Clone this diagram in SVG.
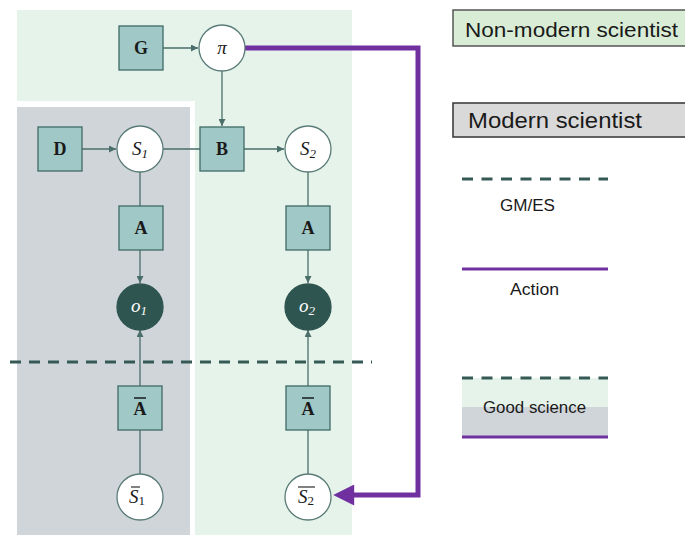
<svg xmlns="http://www.w3.org/2000/svg" width="685" height="535" viewBox="0 0 685 535">
<style>
.sq{fill:#a0c8c6;stroke:#3f6a66;stroke-width:1.3}
.wc{fill:#ffffff;stroke:#5a7c78;stroke-width:1.3}
.dc{fill:#2f5550;stroke:#2f5550;stroke-width:1.3}
.lbl{font-family:"Liberation Serif",serif;font-size:18px;font-weight:bold;fill:#1a1a1a;text-anchor:middle}
.it{font-family:"Liberation Serif",serif;font-size:19px;font-style:italic;fill:#1a1a1a;text-anchor:middle}
.itw{font-family:"Liberation Serif",serif;font-size:19px;font-style:italic;fill:#ffffff;text-anchor:middle}
.edge{stroke:#4a6e69;stroke-width:1.3;fill:none}
.leg{font-family:"Liberation Sans",sans-serif;fill:#1a1a1a}
</style>
<defs>
<marker id="ah" viewBox="0 0 10 10" refX="10" refY="5" markerWidth="7" markerHeight="7" markerUnits="userSpaceOnUse" orient="auto">
<path d="M0,0 L10,5 L0,10 z" fill="#4a6e69"/>
</marker>
<marker id="pah" viewBox="0 0 10 10" refX="2" refY="5" markerWidth="5" markerHeight="4.2" orient="auto">
<path d="M0,0 L10,5 L0,10 z" fill="#7030a0"/>
</marker>
</defs>
<rect width="685" height="535" fill="#ffffff"/>
<g id="regions">
<rect x="17" y="10" width="335" height="525" fill="#e6f3ea"/>
<rect x="17" y="101" width="178" height="434" fill="#ffffff"/>
<rect x="17" y="107" width="173" height="428" fill="#d0d5da"/>
</g>
<line x1="10" y1="362" x2="372" y2="362" stroke="#355a55" stroke-width="3" stroke-dasharray="11,8"/>
<g id="connectors">
<line class="edge" x1="163" y1="48" x2="198" y2="48" marker-end="url(#ah)"/>
<line class="edge" x1="222" y1="71" x2="222" y2="126" marker-end="url(#ah)"/>
<line class="edge" x1="82" y1="149" x2="116" y2="149" marker-end="url(#ah)"/>
<line class="edge" x1="163" y1="149" x2="200" y2="149"/>
<line class="edge" x1="244" y1="149" x2="284" y2="149" marker-end="url(#ah)"/>
<line class="edge" x1="140" y1="172" x2="140" y2="206"/>
<line class="edge" x1="308" y1="172" x2="308" y2="206"/>
<line class="edge" x1="140" y1="250" x2="140" y2="283" marker-end="url(#ah)"/>
<line class="edge" x1="308" y1="250" x2="308" y2="283" marker-end="url(#ah)"/>
<line class="edge" x1="140" y1="386" x2="140" y2="330" marker-end="url(#ah)"/>
<line class="edge" x1="308" y1="386" x2="308" y2="330" marker-end="url(#ah)"/>
<line class="edge" x1="140" y1="430" x2="140" y2="474"/>
<line class="edge" x1="308" y1="430" x2="308" y2="474"/>
<path d="M245,48 H418 V495 H350" fill="none" stroke="#7030a0" stroke-width="5" marker-end="url(#pah)"/>
</g>
<g id="G"><rect class="sq" x="119" y="26" width="44" height="44"/><text class="lbl" x="141" y="54">G</text></g>
<g id="pi"><circle class="wc" cx="222" cy="48" r="23"/><text class="it" x="222" y="54">π</text></g>
<g id="D"><rect class="sq" x="38" y="127" width="44" height="44"/><text class="lbl" x="60" y="155">D</text></g>
<g id="S1"><circle class="wc" cx="140" cy="149" r="23"/><text class="it" x="140" y="155">S<tspan font-size="13" dy="3">1</tspan></text></g>
<g id="B"><rect class="sq" x="200" y="127" width="44" height="44"/><text class="lbl" x="222" y="155">B</text></g>
<g id="S2"><circle class="wc" cx="308" cy="149" r="23"/><text class="it" x="308" y="155">S<tspan font-size="13" dy="3">2</tspan></text></g>
<g id="A1"><rect class="sq" x="119" y="206" width="44" height="44"/><text class="lbl" x="141" y="234" font-size="16">A</text></g>
<g id="A2"><rect class="sq" x="286" y="206" width="44" height="44"/><text class="lbl" x="308" y="234" font-size="16">A</text></g>
<g id="o1"><circle class="dc" cx="140" cy="307" r="23"/><text class="itw" x="139" y="312">o<tspan font-size="13" dy="3">1</tspan></text></g>
<g id="o2"><circle class="dc" cx="308" cy="307" r="23"/><text class="itw" x="307" y="312">o<tspan font-size="13" dy="3">2</tspan></text></g>
<g id="Abar1"><rect class="sq" x="118" y="386" width="44" height="44"/><text class="lbl" x="140" y="415" font-size="16">A</text><line x1="134" y1="398" x2="146" y2="398" stroke="#1a1a1a" stroke-width="1.5"/></g>
<g id="Abar2"><rect class="sq" x="286" y="386" width="44" height="44"/><text class="lbl" x="308" y="415" font-size="16">A</text><line x1="302" y1="398" x2="314" y2="398" stroke="#1a1a1a" stroke-width="1.5"/></g>
<g id="Sbar1"><circle class="wc" cx="140" cy="497" r="23"/><text class="it" x="137" y="503" font-size="16">S<tspan font-style="normal" font-size="13" dy="2">1</tspan></text><line x1="131" y1="487" x2="140" y2="487" stroke="#1a1a1a" stroke-width="1.1"/></g>
<g id="Sbar2"><circle class="wc" cx="308" cy="497" r="23"/><text class="it" x="306" y="503" font-size="16">S<tspan font-style="normal" font-size="13" dy="2">2</tspan></text><line x1="298" y1="487" x2="315" y2="487" stroke="#1a1a1a" stroke-width="1.1"/></g>
<g id="legend">
<rect x="453" y="10" width="240" height="36" fill="#d9ecd6" stroke="#555555" stroke-width="1.5"/>
<text class="leg" x="465" y="37" font-size="20" textLength="213" lengthAdjust="spacingAndGlyphs">Non-modern scientist</text>
<rect x="453" y="103" width="240" height="34" fill="#d9d9d9" stroke="#333333" stroke-width="1.5"/>
<text class="leg" x="468" y="128" font-size="22" textLength="174" lengthAdjust="spacingAndGlyphs">Modern scientist</text>
<line x1="462" y1="179" x2="608" y2="179" stroke="#355a55" stroke-width="3" stroke-dasharray="11,8.5"/>
<text class="leg" x="500" y="211" font-size="16" textLength="55" lengthAdjust="spacingAndGlyphs">GM/ES</text>
<line x1="462" y1="269" x2="608" y2="269" stroke="#7030a0" stroke-width="3"/>
<text class="leg" x="510" y="295" font-size="16" textLength="49" lengthAdjust="spacingAndGlyphs">Action</text>
<rect x="462" y="378" width="146" height="29" fill="#e6f3ea"/>
<rect x="462" y="407" width="146" height="30" fill="#d0d5da"/>
<line x1="462" y1="378" x2="608" y2="378" stroke="#355a55" stroke-width="3" stroke-dasharray="11,8.5"/>
<line x1="462" y1="437" x2="608" y2="437" stroke="#7030a0" stroke-width="3"/>
<text class="leg" x="483" y="413" font-size="17" textLength="103" lengthAdjust="spacingAndGlyphs">Good science</text>
</g>
</svg>
